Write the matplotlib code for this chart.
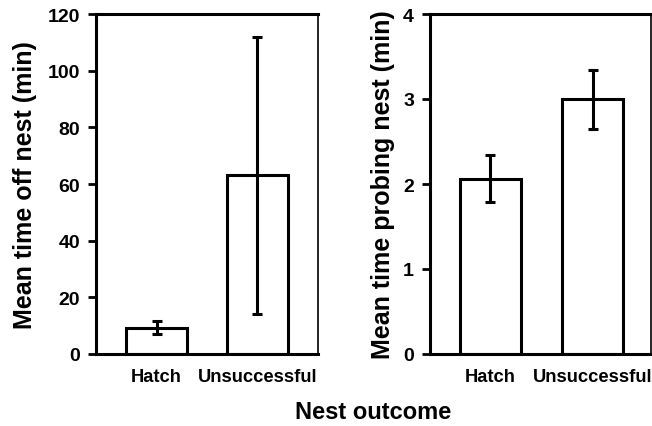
import matplotlib.pyplot as plt

plt.rcParams['font.family'] = ['Liberation Sans', 'DejaVu Sans']
plt.rcParams['font.weight'] = 'bold'

outcomes = ["Hatch", "Unsuccessful"]

# mean time off nest (min) with error bar ends
off_mean = [9.3, 63.2]
off_low = [7.1, 14.1]
off_high = [11.8, 111.8]

# mean time probing nest (min)
probe_mean = [2.06, 3.0]
probe_low = [1.79, 2.65]
probe_high = [2.34, 3.34]

fig = plt.figure(figsize=(6.52, 4.27), dpi=100)
W, H = 652, 427
ax1 = fig.add_axes([96 / W, (H - 355) / H, 222 / W, 340 / H])
ax2 = fig.add_axes([430 / W, (H - 355) / H, 221 / W, 340 / H])


def draw(ax, mean, low, high, ymax, ystep, ylabel, xlim, lpad):
    x = list(range(len(mean)))
    err = [[m - l for m, l in zip(mean, low)], [h - m for m, h in zip(mean, high)]]
    ax.bar(x, mean, width=0.6, color="white", edgecolor="black", linewidth=2.2, zorder=2)
    ax.errorbar(x, mean, yerr=err, fmt="none", ecolor="black", elinewidth=2.2,
                capsize=3.8, capthick=2.2, zorder=3)
    ax.set_xlim(*xlim)
    ax.set_ylim(0, ymax)
    ax.set_yticks([i * ystep for i in range(int(ymax / ystep) + 1)])
    ax.set_xticks(x)
    ax.set_xticklabels(outcomes, fontsize=13.2, fontweight="bold")
    ax.tick_params(axis="x", length=0, pad=10)
    ax.tick_params(axis="y", length=5.5, width=2, labelsize=14, pad=6)
    for s in ax.spines.values():
        s.set_linewidth(2.2)
    ax.spines["right"].set_linewidth(1.2)
    ax.set_ylabel(ylabel, fontsize=18, fontweight="bold", labelpad=lpad)


draw(ax1, off_mean, off_low, off_high, 120, 20, "Mean time off nest (min)", (-0.6, 1.6), 8)
draw(ax2, probe_mean, probe_low, probe_high, 4, 1, "Mean time probing nest (min)", (-0.59, 1.57), 6)

fig.text(295 / W, 1 - 419 / H, "Nest outcome", ha="left", va="baseline",
         fontsize=17, fontweight="bold")

fig.savefig("out.png", dpi=100)
